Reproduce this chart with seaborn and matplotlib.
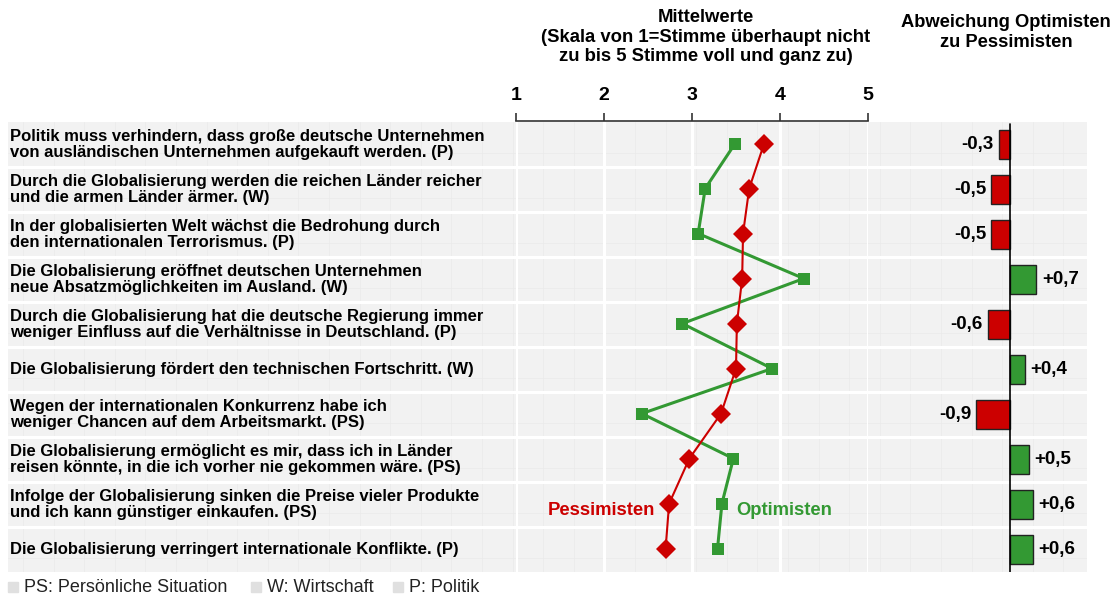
import numpy as np
import pandas as pd
import matplotlib
matplotlib.use("Agg")
import matplotlib.pyplot as plt
import seaborn as sns

# ── Data ─────────────────────────────────────────────────────────
statements = [
    "Politik muss verhindern, dass große deutsche Unternehmen\nvon ausländischen Unternehmen aufgekauft werden. (P)",
    "Durch die Globalisierung werden die reichen Länder reicher\nund die armen Länder ärmer. (W)",
    "In der globalisierten Welt wächst die Bedrohung durch\nden internationalen Terrorismus. (P)",
    "Die Globalisierung eröffnet deutschen Unternehmen\nneue Absatzmöglichkeiten im Ausland. (W)",
    "Durch die Globalisierung hat die deutsche Regierung immer\nweniger Einfluss auf die Verhältnisse in Deutschland. (P)",
    "Die Globalisierung fördert den technischen Fortschritt. (W)",
    "Wegen der internationalen Konkurrenz habe ich\nweniger Chancen auf dem Arbeitsmarkt. (PS)",
    "Die Globalisierung ermöglicht es mir, dass ich in Länder\nreisen könnte, in die ich vorher nie gekommen wäre. (PS)",
    "Infolge der Globalisierung sinken die Preise vieler Produkte\nund ich kann günstiger einkaufen. (PS)",
    "Die Globalisierung verringert internationale Konflikte. (P)",
]
optimisten  = [3.49, 3.15, 3.07, 4.27, 2.89, 3.91, 2.43, 3.47, 3.34, 3.29]
pessimisten = [3.82, 3.65, 3.58, 3.57, 3.51, 3.50, 3.33, 2.97, 2.74, 2.70]
abweichung  = [-0.3, -0.5, -0.5, 0.7, -0.6, 0.4, -0.9, 0.5, 0.6, 0.6]
scale_ticks = [1, 2, 3, 4, 5]
legend_items = ["PS: Persönliche Situation", "W: Wirtschaft", "P: Politik"]

RED   = "#CC0000"
GREEN = "#339933"
BG    = "#F2F2F2"

sns.set_theme(style="white")
plt.rcParams["font.family"] = ["Liberation Sans", "DejaVu Sans"]
plt.rcParams["text.color"] = "black"
plt.rcParams["xtick.color"] = "black"

W, H = 1120, 595
fig = plt.figure(figsize=(W / 100, H / 100), dpi=100)


def box(x0, y0, x1, y1):
    """Pixel box (top-left origin) -> figure fraction rect."""
    return [x0 / W, 1 - y1 / H, (x1 - x0) / W, (y1 - y0) / H]


n = len(statements)
rows = np.arange(n)
TOP, BOTTOM = 122, 572

# ── Background band with row stripes ────────────────────────────
bg = fig.add_axes(box(8, TOP, 1087, BOTTOM))
bg.set_facecolor(BG)
bg.set_xlim(8, 1087)
bg.set_ylim(n - 0.5, -0.5)
for xv in np.arange(23, 1087, 30.6):
    bg.axvline(xv, color="#EAEAEA", lw=0.5, zorder=0)
for r in rows:
    bg.axhline(r + 0.18, color="#EAEAEA", lw=0.5, zorder=0)
for r in rows[:-1]:
    bg.axhline(r + 0.5, color="white", lw=2.2, zorder=1)
for sp in bg.spines.values():
    sp.set_visible(False)
bg.set_xticks([])
bg.set_yticks([])
for r, txt in zip(rows, statements):
    bg.text(10, r, txt, ha="left", va="center", fontsize=12,
            fontweight="bold", color="black", linespacing=1.08)

# ── Middle: mean values ─────────────────────────────────────────
ax = fig.add_axes(box(516, 121, 868, BOTTOM))
ax.set_facecolor("none")
df = pd.DataFrame({"row": rows, "Optimisten": optimisten, "Pessimisten": pessimisten})
sns.lineplot(data=df, x="Optimisten", y="row", sort=False, estimator=None,
             color=GREEN, lw=2.2, marker="s", markersize=8.5,
             markeredgewidth=0, ax=ax, clip_on=False, zorder=3)
sns.lineplot(data=df, x="Pessimisten", y="row", sort=False, estimator=None,
             color=RED, lw=1.5, marker="D", markersize=10,
             markeredgewidth=0, ax=ax, clip_on=False, zorder=4)
ax.set_xlim(1, 5)
ax.set_ylim(n - 0.5 + 0.02, -0.5)
ax.xaxis.tick_top()
ax.set_xticks(scale_ticks)
ax.set_xticklabels([str(t) for t in scale_ticks], fontsize=14, fontweight="bold")
ax.tick_params(axis="x", direction="out", length=6, width=1.2, color="#333333",
               pad=6.5, top=True, bottom=False)
ax.set_yticks([])
ax.set_xlabel("")
ax.set_ylabel("")
ax.grid(axis="x", color="white", lw=2.2)
ax.grid(axis="y", visible=False)
for side in ["left", "right", "bottom"]:
    ax.spines[side].set_visible(False)
ax.spines["top"].set_color("#333333")
ax.spines["top"].set_linewidth(1.2)
ax.text(2.58, 8.16, "Pessimisten", color=RED, fontsize=13.3, fontweight="bold",
        ha="right", va="center")
ax.text(3.50, 8.16, "Optimisten", color=GREEN, fontsize=13.3, fontweight="bold",
        ha="left", va="center")

# ── Right: difference bars ──────────────────────────────────────
ax2 = fig.add_axes(box(880, TOP, 1087, BOTTOM))
ax2.set_facecolor("none")
bar_df = pd.DataFrame({"row": [str(r) for r in rows], "diff": abweichung,
                       "sign": ["neg" if v < 0 else "pos" for v in abweichung]})
sns.barplot(data=bar_df, x="diff", y="row", hue="sign",
            palette={"neg": RED, "pos": GREEN}, dodge=False, legend=False,
            width=0.66, edgecolor="#222222", linewidth=1.0, saturation=1,
            ax=ax2)
ax2.set_xlim(-(1010 - 880) / 37.5, (1087 - 1010) / 37.5)
ax2.set_ylim(n - 0.5, -0.5)
ax2.axvline(0, color="black", lw=1.2, ymin=0, ymax=0.995)
for r, v in zip(rows, abweichung):
    label = f"{v:+.1f}".replace(".", ",")
    if v < 0:
        ax2.text(v - 0.13, r, label, ha="right", va="center",
                 fontsize=13.5, fontweight="bold")
    else:
        ax2.text(v + 0.15, r, label, ha="left", va="center",
                 fontsize=13.5, fontweight="bold")
ax2.set_xticks([])
ax2.set_yticks([])
ax2.set_xlabel("")
ax2.set_ylabel("")
for sp in ax2.spines.values():
    sp.set_visible(False)

# ── Titles ──────────────────────────────────────────────────────
fig.text(706 / W, 1 - 9 / H,
         "Mittelwerte\n(Skala von 1=Stimme überhaupt nicht\nzu bis 5 Stimme voll und ganz zu)",
         ha="center", va="top", fontsize=13.3, fontweight="bold", linespacing=1.2)
fig.text(1006 / W, 1 - 14 / H, "Abweichung Optimisten\nzu Pessimisten",
         ha="center", va="top", fontsize=13.2, fontweight="bold", linespacing=1.2)

# ── Bottom legend ───────────────────────────────────────────────
leg_x = [8, 251, 393]
for x0, txt in zip(leg_x, legend_items):
    fig.patches.append(plt.Rectangle((x0 / W, 1 - 592 / H), 10 / W, 10 / H,
                                     transform=fig.transFigure, color="#E0E0E0"))
    fig.text((x0 + 16) / W, 1 - 588 / H, txt, ha="left", va="center",
             fontsize=13, color="#222222")

fig.savefig("out.png", dpi=100)
